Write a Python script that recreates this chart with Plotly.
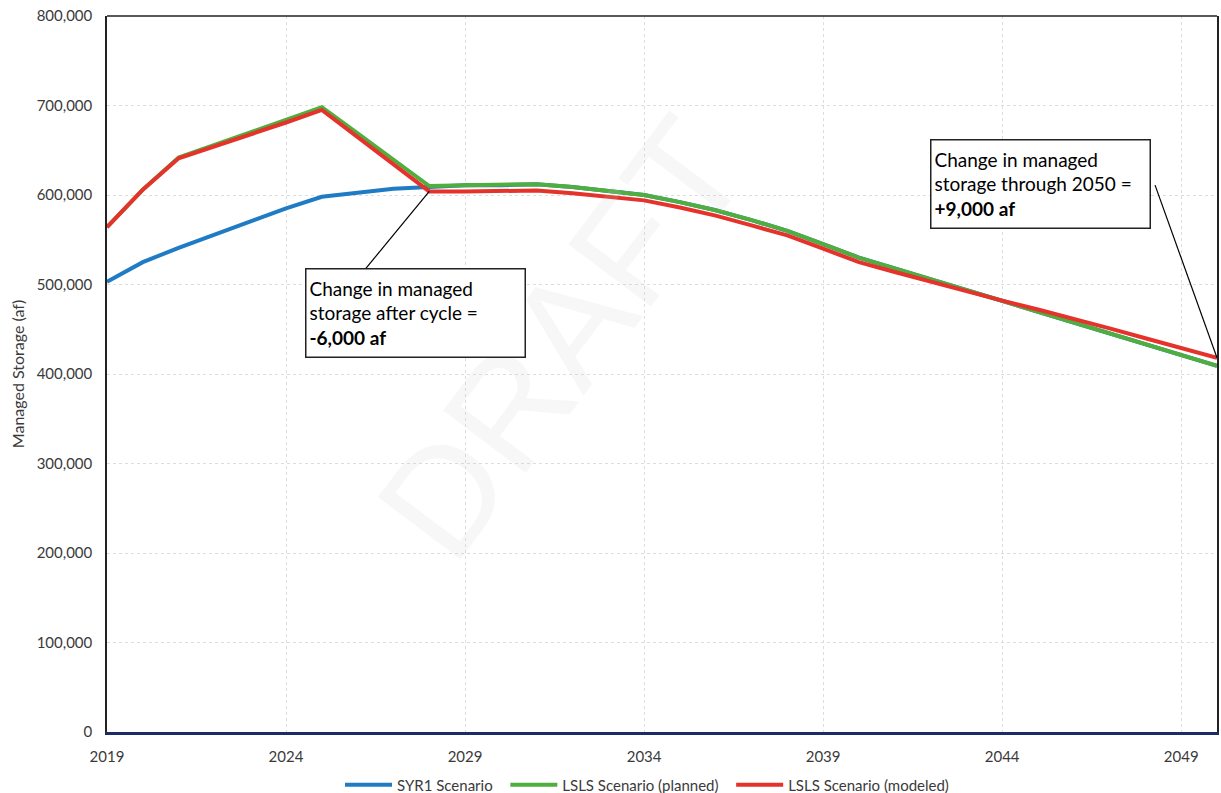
import plotly.graph_objects as go

years = list(range(2019, 2051))

syr1 = [503, 525, 541, 556, 571, 585, 598, 603, 607, 609,
        611, 611, 612, 609, 605, 600, 592, 583, 572, 560,
        545, 530, 518, 506, 494, 482, 470, 458, 446, 434, 422, 409]
lsls_planned = [564, 606, 642, 656, 670, 684, 698, 669, 640, 610,
                611, 611, 612, 609, 605, 600, 592, 583, 572, 560,
                545, 530, 518, 506, 494, 482, 470, 458, 446, 434, 422, 409]
lsls_modeled = [564, 606, 641, 654, 668, 681, 695, 665, 635, 604,
                604, 604, 605, 602, 598, 594, 586, 577, 566, 555,
                540, 525, 514, 503, 493, 482, 472, 462, 451, 440, 429, 418]

syr1 = [v * 1000 for v in syr1]
lsls_planned = [v * 1000 for v in lsls_planned]
lsls_modeled = [v * 1000 for v in lsls_modeled]

x_ticks = [2019, 2024, 2029, 2034, 2039, 2044, 2049]
y_ticks = list(range(0, 800001, 100000))
y_tick_text = [f"{v:,}" for v in y_ticks]

font_family = "Lato, 'Open Sans', sans-serif"
gray = "#3a3a3a"
pad = "\u00a0" * 2

fig = go.Figure()
fig.add_trace(go.Scatter(x=years, y=syr1, mode="lines", name="SYR1 Scenario" + pad,
                         line=dict(color="#1f7cc4", width=4)))
fig.add_trace(go.Scatter(x=years, y=lsls_planned, mode="lines", name="LSLS Scenario (planned)" + pad,
                         line=dict(color="#4fae3e", width=4)))
fig.add_trace(go.Scatter(x=years, y=lsls_modeled, mode="lines", name="LSLS Scenario (modeled)",
                         line=dict(color="#e5322b", width=4)))

i28 = years.index(2028)
i50 = years.index(2050)

# very faint watermark
fig.add_annotation(xref="paper", yref="paper", x=0.41, y=0.55, text="DRAFT",
                   showarrow=False, textangle=-53,
                   font=dict(family="Liberation Sans, sans-serif", size=150,
                             color="rgba(200,200,200,0.15)"))

# leader lines
fig.add_shape(type="line", xref="x", yref="y", x0=2026.23, y0=518000,
              x1=2028, y1=lsls_modeled[i28], line=dict(color="black", width=1.2))
fig.add_shape(type="line", xref="x", yref="y", x0=2048.27, y0=611000,
              x1=2050, y1=lsls_modeled[i50], line=dict(color="black", width=1.2))
# top frame line
fig.add_shape(type="line", xref="paper", yref="paper", x0=0, y0=1, x1=1, y1=1,
              line=dict(color="#222222", width=1.5))

fig.add_annotation(xref="x", yref="y", x=2024.53, y=518000, xanchor="left", yanchor="top",
                   text="Change in managed<br>storage after cycle =<br><b>-6,000 af</b>",
                   showarrow=False, align="left", width=212, height=81,
                   font=dict(family=font_family, size=19, color="black"),
                   bgcolor="white", bordercolor="#222222", borderwidth=1.5, borderpad=3)
fig.add_annotation(xref="x", yref="y", x=2041.99, y=662600, xanchor="left", yanchor="top",
                   text="Change in managed<br>storage through 2050 =<br><b>+9,000 af</b>",
                   showarrow=False, align="left", width=212, height=81,
                   font=dict(family=font_family, size=19, color="black"),
                   bgcolor="white", bordercolor="#222222", borderwidth=1.5, borderpad=3)

fig.update_layout(
    width=1221, height=793,
    margin=dict(l=107, r=4, t=16, b=61, autoexpand=False),
    paper_bgcolor="white", plot_bgcolor="white",
    font=dict(family=font_family, size=15, color=gray),
    showlegend=True,
    legend=dict(orientation="h", x=340 / 1221, xanchor="left", xref="container",
                y=8 / 793, yanchor="middle", yref="container", itemwidth=47,
                font=dict(size=15, color=gray), tracegroupgap=0),
)
fig.update_xaxes(range=[2019, 2050], tickvals=x_ticks, showgrid=True,
                 gridcolor="#dddddd", griddash="dot", gridwidth=1,
                 showline=True, linecolor="#1c2a66", linewidth=2.5, mirror=False,
                 ticks="outside", ticklen=9, tickcolor="rgba(0,0,0,0)",
                 tickfont=dict(size=15, color=gray), zeroline=False,
                 automargin=False, ticklabeloverflow="allow")
fig.update_yaxes(range=[0, 800000], tickvals=y_ticks, ticktext=y_tick_text,
                 showgrid=True, gridcolor="#dddddd", griddash="dot", gridwidth=1,
                 showline=True, linecolor="#222222", linewidth=1.5, mirror=True,
                 ticks="outside", ticklen=10, tickcolor="rgba(0,0,0,0)",
                 tickfont=dict(size=15, color=gray), zeroline=False,
                 automargin=False, ticklabeloverflow="allow",
                 title=dict(text="Managed Storage (af)", font=dict(size=16, color=gray), standoff=8))

fig.write_html("out.html", config={"displayModeBar": False},
               post_script="document.body.style.margin='0';document.body.style.overflow='hidden';")
